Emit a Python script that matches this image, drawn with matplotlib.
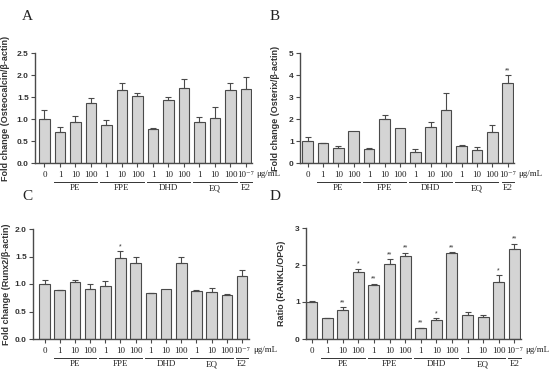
import matplotlib
matplotlib.use("Agg")
import matplotlib.pyplot as plt
import numpy as np

# ---------------- data ----------------
tick_labels = ["0", "1", "10", "100", "1", "10", "100", "1", "10", "100", "1", "10", "100", "10⁻⁷"]
groups = ["PE", "FPE", "DHD", "EQ", "E2"]
group_spans = [(1, 3), (4, 6), (7, 9), (10, 12), (13, 13)]
unit_label = "μg/mL"

osteocalcin_mean = [1.00, 0.70, 0.94, 1.36, 0.87, 1.66, 1.53, 0.78, 1.44, 1.70, 0.94, 1.02, 1.66, 1.68]
osteocalcin_err = [0.20, 0.12, 0.12, 0.11, 0.10, 0.16, 0.06, 0.02, 0.06, 0.21, 0.11, 0.25, 0.16, 0.27]
osteocalcin_sig = [""] * 14

osterix_mean = [1.00, 0.90, 0.68, 1.46, 0.62, 2.02, 1.57, 0.50, 1.64, 2.42, 0.77, 0.60, 1.42, 3.64]
osterix_err = [0.19, 0.03, 0.10, 0.00, 0.04, 0.15, 0.00, 0.13, 0.21, 0.76, 0.06, 0.15, 0.31, 0.34]
osterix_sig = [""] * 13 + ["**"]

runx2_mean = [1.00, 0.885, 1.04, 0.91, 0.96, 1.47, 1.39, 0.83, 0.91, 1.38, 0.88, 0.86, 0.80, 1.15]
runx2_err = [0.08, 0.015, 0.04, 0.09, 0.09, 0.13, 0.11, 0.01, 0.00, 0.12, 0.005, 0.07, 0.01, 0.10]
runx2_sig = ["", "", "", "", "", "*", "", "", "", "", "", "", "", ""]

rankl_mean = [1.00, 0.56, 0.79, 1.80, 1.47, 2.02, 2.24, 0.29, 0.52, 2.33, 0.66, 0.60, 1.54, 2.43]
rankl_err = [0.02, 0.01, 0.07, 0.10, 0.02, 0.14, 0.09, 0.02, 0.04, 0.01, 0.08, 0.06, 0.18, 0.14]
rankl_sig = ["", "", "**", "*", "**", "**", "**", "**", "*", "**", "", "", "*", "**"]

SERIF = ["Liberation Serif", "DejaVu Serif"]
SANS = ["Liberation Sans", "DejaVu Sans"]
W, H = 550, 371
fig = plt.figure(figsize=(W / 100, H / 100), dpi=100)

panels = [
    ("A", osteocalcin_mean, osteocalcin_err, osteocalcin_sig, "Fold change (Osteocalcin/β-actin)",
     2.5, 0.5, "{:.1f}", 35, 15.5, 44.5, 252, 163, 53, (22, 16), -25),
    ("B", osterix_mean, osterix_err, osterix_sig, "Fold change (Osterix/β-actin)",
     5, 1, "{:.0f}", 300, 15.4, 307.5, 514, 163, 53, (270, 16), -20),
    ("C", runx2_mean, runx2_err, runx2_sig, "Fold change (Runx2/β-actin)",
     2.0, 0.5, "{:.1f}", 33, 15.2, 44.5, 249, 339, 229, (22, 196), -22),
    ("D", rankl_mean, rankl_err, rankl_sig, "Ratio (RANKL/OPG)",
     3, 1, "{:.0f}", 306, 15.6, 311.5, 521, 339, 228, (270, 196), -20),
]

edge = "#4a4a4a"
face = "#d4d4d4"

for (letter, mean, err, sig, ylab, ymax, ystep, fmt, ax_x, sp, c0, right_px,
     y0px, ytop, lxy, yloff) in panels:
    n = len(mean)
    x = np.arange(n)
    xl = -(c0 - ax_x) / sp
    xr = (n - 1) + (right_px - (c0 + (n - 1) * sp)) / sp
    width_px = (xr - xl) * sp
    height_px = y0px - ytop
    ax = fig.add_axes([ax_x / W, 1 - y0px / H, width_px / W, height_px / H])
    ax.bar(x, mean, width=0.7, color=face, edgecolor=edge, linewidth=0.8, zorder=2)
    mean_a = np.array(mean)
    err_a = np.array(err)
    has = err_a > 0
    ax.errorbar(x[has], mean_a[has], yerr=[np.zeros(has.sum()), err_a[has]], fmt="none",
                ecolor=edge, elinewidth=0.8, capsize=2.2, capthick=0.8, zorder=3)
    for i in range(n):
        if sig[i]:
            ax.text(x[i], mean[i] + err[i] + ymax * 0.01, sig[i], ha="center", va="bottom",
                    fontsize=5, color="#333333", family=SANS)
    ax.set_xlim(xl, xr)
    ax.set_ylim(0, ymax)
    for s in ["top", "right"]:
        ax.spines[s].set_visible(False)
    for s in ["left", "bottom"]:
        ax.spines[s].set_color(edge)
        ax.spines[s].set_linewidth(1.0)
    yt = np.arange(0, ymax + 1e-9, ystep)
    ax.set_yticks(yt)
    ax.set_yticklabels([fmt.format(v) for v in yt], fontsize=6, fontweight="bold",
                       family=SANS, color="#333333")
    ax.tick_params(axis="y", length=3, width=0.8, color=edge, pad=1.5)
    ax.set_xticks(x)
    ax.set_xticklabels(tick_labels, fontsize=6.5, family=SERIF, color="#222222")
    ax.tick_params(axis="x", length=3, width=0.8, color=edge, pad=3)
    ax.set_ylabel(ylab, fontsize=6.5, fontweight="bold", family=SANS, color="#333333")
    ax.yaxis.set_label_coords(yloff / width_px, 0.5)
    ax.text(xr + 0.25, -11 / height_px, unit_label, transform=ax.get_xaxis_transform(),
            ha="left", va="center", fontsize=6.5, family=SERIF, color="#222222", clip_on=False)
    for g, (a, b) in zip(groups, group_spans):
        yl = -18.5 / height_px
        ax.plot([a - 0.4, b + 0.4], [yl, yl], transform=ax.get_xaxis_transform(),
                color="#333333", lw=0.7, clip_on=False)
        ax.text((a + b) / 2, -25 / height_px, g, transform=ax.get_xaxis_transform(),
                ha="center", va="center", fontsize=6.5, family=SERIF, color="#222222", clip_on=False)
    fig.text(lxy[0] / W, 1 - lxy[1] / H, letter, fontsize=11, family=SERIF,
             ha="left", va="center", color="#222222")

fig.savefig("out.png", dpi=100)
